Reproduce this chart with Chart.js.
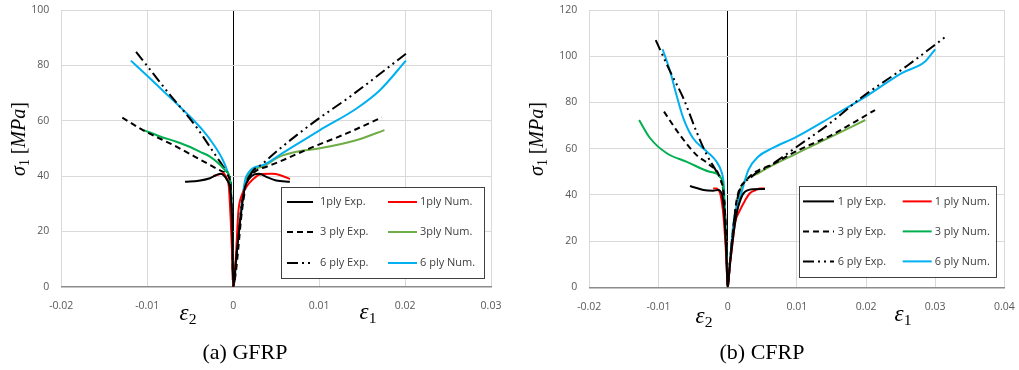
<!DOCTYPE html>
<html><head><meta charset="utf-8">
<script src="https://cdn.jsdelivr.net/npm/chart.js@4.4.0/dist/chart.umd.min.js"></script>
<style>
body{margin:0;background:#fff;width:1019px;height:370px;position:relative;overflow:hidden;}
canvas{position:absolute;top:0;}
.t{position:absolute;font-family:"Liberation Serif",serif;color:#000;white-space:nowrap;line-height:1;}
.t sub{font-style:normal;font-size:0.68em;vertical-align:-0.3em;line-height:0;}
.ax{font-style:italic;font-size:23px;transform:translate(-50%,-50%);}
.yt{transform:translate(-50%,-50%) rotate(-90deg);font-size:20px;}
.cap{font-size:22px;transform:translate(-50%,-50%);}
</style></head>
<body>
<canvas id="ga" width="505" height="330" style="left:0"></canvas>
<canvas id="cb" width="509" height="330" style="left:510px"></canvas>
<div class="t yt" style="left:18px;top:139px"><i>σ</i><sub>1</sub> [<i>MPa</i>]</div>
<div class="t yt" style="left:536px;top:139px"><i>σ</i><sub>1</sub> [<i>MPa</i>]</div>
<div class="t ax" style="left:188px;top:312px">ε<sub>2</sub></div>
<div class="t ax" style="left:368px;top:311px">ε<sub>1</sub></div>
<div class="t ax" style="left:704px;top:315px">ε<sub>2</sub></div>
<div class="t ax" style="left:903px;top:313px">ε<sub>1</sub></div>
<div class="t cap" style="left:245px;top:352px">(a) GFRP</div>
<div class="t cap" style="left:762px;top:352px">(b) CFRP</div>
<script>
// ---------- tick labels ----------
const gfrpXTicks = [-0.02, -0.01, 0, 0.01, 0.02, 0.03];
const gfrpYTicks = [0, 20, 40, 60, 80, 100];
const cfrpXTicks = [-0.02, -0.01, 0, 0.01, 0.02, 0.03, 0.04];
const cfrpYTicks = [0, 20, 40, 60, 80, 100, 120];

// ---------- legend labels ----------
const gfrpLabels = ['1ply Exp.', '1ply Num.', '3 ply Exp.', '3ply Num.', '6 ply Exp.', '6 ply Num.'];
const cfrpLabels = ['1 ply Exp.', '1 ply Num.', '3 ply Exp.', '3 ply Num.', '6 ply Exp.', '6 ply Num.'];

// ---------- GFRP data [strain, stress] ----------
const gfrp1Exp = [[-0.0056,37.9],[-0.0040,38.3],[-0.0027,39.2],[-0.0015,40.8],[-0.0007,38.5],[-0.0003,34],[-0.0001,20],[0,0],
  [0.0004,12],[0.0009,26],[0.0013,35],[0.0020,39.5],[0.0030,40.8],[0.0040,39.5],[0.0050,38.4],[0.0066,37.9]];
const gfrp1Num = [[-0.0023,40.0],[-0.0016,40.6],[-0.0012,41],[-0.0008,39.5],[-0.0005,36],[-0.0003,25],[-0.0001,10],[0,0],
  [0.0003,10],[0.0006,27],[0.0010,33],[0.0014,35.5],[0.0023,38.8],[0.0033,40.7],[0.0045,40.8],[0.0055,40.3],[0.0066,38.9]];
const gfrp3Exp = [[-0.0129,61.1],[-0.0105,56.6],[-0.0066,50.6],[-0.0027,44],[-0.0012,41.6],[-0.0005,39.5],[-0.0002,30],[-0.0001,15],[0,0],
  [0.0003,5],[0.0006,14],[0.0009,24],[0.0012,31.5],[0.0016,38],[0.0025,41.5],[0.0040,43.5],[0.0054,45.2],[0.0089,50],[0.0132,55.4],[0.0173,61.2]];
const gfrp3NumNeg = [[-0.0104,56.6],[-0.0085,54.3],[-0.0066,52.4],[-0.0050,50.5],[-0.0039,48.8],[-0.0027,47],[-0.0015,44],[-0.0008,41.6],[-0.0004,39.2],[-0.0002,30],[-0.0001,15],[0,0]];
const gfrp3NumPos = [[0,0],[0.0005,15],[0.0010,30],[0.0015,39],[0.0035,43.5],[0.0054,47],[0.0074,48.8],[0.0101,50],[0.0144,53],[0.0176,56.6]];
const gfrp6Exp = [[-0.0113,84.9],[-0.0093,77],[-0.0074,69.5],[-0.0055,62.5],[-0.0040,56.5],[-0.0027,50.5],[-0.0015,45],[-0.0007,41.5],[-0.0003,38],[-0.0002,30],[-0.0001,15],[0,0],
  [0.0005,15],[0.0010,30],[0.0019,39.8],[0.0035,44.6],[0.0054,49.8],[0.0097,60.2],[0.0136,68.7],[0.0204,84.9]];
const gfrp6Num = [[-0.0119,81.7],[-0.0100,76.2],[-0.0085,71.8],[-0.0068,66.8],[-0.0050,61.4],[-0.0035,56.4],[-0.0025,52.4],[-0.0012,45.8],[-0.0006,41],[-0.0003,37],[-0.0002,30],[-0.0001,15],[0,0],
  [0.0005,15],[0.0010,30],[0.0015,39.8],[0.0035,44],[0.0054,47.6],[0.0101,56.6],[0.0144,64.5],[0.0171,71.1],[0.0201,81.7]];

// ---------- CFRP data [strain, stress] ----------
const cfrp1Exp = [[-0.00545,43.8],[-0.0045,43],[-0.0035,42.1],[-0.0021,41.8],[-0.0014,42.1],[-0.0008,40],[-0.0005,32],[-0.0002,15],[0,0],
  [0.0003,9],[0.0008,22],[0.0013,32],[0.0018,37.5],[0.0023,40.7],[0.0037,42.4],[0.0054,42.5]];
const cfrp1Num = [[-0.0021,42.8],[-0.0017,42.8],[-0.0011,40.7],[-0.0008,36],[-0.0006,30.6],[-0.0003,18],[-0.00014,8.9],[0,0],
  [0.0003,8.9],[0.0007,19],[0.00105,27.7],[0.0018,33.5],[0.0025,37.5],[0.0032,40.7],[0.0040,42],[0.0047,42.8],[0.0054,42.8]];
const cfrp3Exp = [[-0.0092,76],[-0.0069,65.9],[-0.0045,57.2],[-0.0026,52.9],[-0.0011,47.2],[-0.0005,38],[-0.0002,20],[0,0],
  [0.0003,10],[0.0008,25],[0.0013,37.8],[0.00275,46.4],[0.0068,53.7],[0.0100,59],[0.0150,65.9],[0.0213,76.7]];
const cfrp3NumNeg = [[-0.0128,72.4],[-0.0112,64.5],[-0.0088,58],[-0.0059,54.3],[-0.0026,50],[-0.0011,47.9],[-0.0006,42],[-0.0003,25],[-0.0001,10],[0,0]];
const cfrp3NumPos = [[0,0],[0.0003,10],[0.0008,25],[0.0013,35],[0.0020,43.5],[0.0044,49.3],[0.0100,58],[0.0150,65.2],[0.0199,72.4]];
const cfrp6Exp = [[-0.0104,107],[-0.0083,93.3],[-0.0064,81.8],[-0.0045,67.3],[-0.0030,57.2],[-0.0016,50],[-0.0009,45.7],[-0.0005,38],[-0.0002,20],[0,0],
  [0.0003,10],[0.0008,25],[0.0013,37],[0.0035,47.9],[0.0059,52.2],[0.0100,60.8],[0.0150,71.5],[0.0192,81.8],[0.0260,96],[0.0314,108.2]];
const cfrp6Num = [[-0.0094,103],[-0.0083,93.3],[-0.0074,83.2],[-0.0064,73.1],[-0.0050,64.5],[-0.0030,58.7],[-0.0016,54.3],[-0.0009,50],[-0.0006,45.7],[-0.0005,40.7],[-0.0003,25],[-0.00015,10],[0,0],
  [0.0003,10],[0.0008,27],[0.0013,35],[0.0018,39.2],[0.0030,50.8],[0.0044,56.5],[0.0064,60.1],[0.0100,65.2],[0.0150,73.8],[0.0203,83.2],[0.0251,92.6],[0.0285,97.6],[0.0300,103]];

Chart.defaults.font.family = "'Open Sans', sans-serif";

const legendPlugin = {
  id: 'boxLegend',
  afterDraw(chart, args, o) {
    const {ctx, chartArea} = chart;
    const L = chartArea.right - o.right - o.w;
    const T = chartArea.bottom - o.bottom - o.h;
    ctx.save();
    ctx.fillStyle = '#fff';
    ctx.fillRect(L, T, o.w, o.h);
    ctx.strokeStyle = '#404040';
    ctx.lineWidth = 1;
    ctx.strokeRect(Math.round(L) + 0.5, Math.round(T) + 0.5, o.w, o.h);
    ctx.font = "11px 'Open Sans', sans-serif";
    ctx.textBaseline = 'middle';
    chart.data.datasets.slice(0, 6).forEach((ds, i) => {
      const col = i % 2, row = Math.floor(i / 2);
      const y = T + o.rows[row];
      const x0 = L + o.lineX[col];
      ctx.strokeStyle = (i === 3 && o.green) ? o.green : ds.borderColor;
      ctx.lineWidth = 2;
      ctx.setLineDash(ds.borderDash || []);
      ctx.beginPath();
      ctx.moveTo(x0, y);
      ctx.lineTo(x0 + o.lineW[col], y);
      ctx.stroke();
      ctx.setLineDash([]);
      ctx.fillStyle = '#404040';
      ctx.fillText(ds.label, L + o.textX[col], y);
    });
    ctx.restore();
  }
};

// series: [1Exp, 1Num, 3Exp, 3Num(eps2 branch), 6Exp, 6Num, 3Num(eps1 branch)]
function mkDatasets(labels, series) {
  const colors = ['#000000', '#ff0000', '#000000', '#00b050', '#000000', '#00b0f0', '#70ad47'];
  const dashes = [[], [], [6, 4], [], [11, 4, 2, 4, 2, 4], [], []];
  const lbls = labels.concat([labels[3]]);
  return series.map((s, i) => ({
    label: lbls[i],
    data: s.map(p => ({x: p[0], y: p[1]})),
    borderColor: colors[i],
    borderDash: dashes[i],
    borderWidth: 2,
    pointRadius: 0,
    showLine: true,
    fill: false,
    cubicInterpolationMode: 'monotone'
  }));
}

function noPad(s) { s.paddingLeft = 0; s.paddingRight = 0; s.paddingTop = 0; s.paddingBottom = 0; }

function mkChart(id, datasets, xt, yt, yw, xh, padT, padR, legend) {
  const fmt = v => String(Math.round(v * 100) / 100);
  return new Chart(document.getElementById(id), {
    type: 'scatter',
    data: {datasets},
    plugins: [legendPlugin],
    options: {
      responsive: false,
      animation: false,
      layout: {padding: {top: padT, right: padR, left: 0, bottom: 0}},
      plugins: {legend: {display: false}, tooltip: {enabled: false}, boxLegend: legend},
      scales: {
        x: {
          type: 'linear', min: xt[0], max: xt[xt.length - 1],
          afterBuildTicks: s => { s.ticks = xt.map(v => ({value: v})); },
          afterFit: s => { s.height = xh; noPad(s); },
          grid: {color: c => (c.tick && c.tick.value === 0) ? '#000000' : '#d9d9d9', lineWidth: 1, drawTicks: false},
          border: {display: true, color: '#8c8c8c', width: 1.5},
          ticks: {color: '#595959', font: {size: 10.5}, padding: 13, callback: fmt, maxRotation: 0}
        },
        y: {
          type: 'linear', min: yt[0], max: yt[yt.length - 1],
          afterBuildTicks: s => { s.ticks = yt.map(v => ({value: v})); },
          afterFit: s => { s.width = yw; noPad(s); },
          grid: {color: '#d9d9d9', lineWidth: 1, drawTicks: false},
          border: {display: false},
          ticks: {color: '#595959', font: {size: 10.5}, padding: 12, callback: fmt}
        }
      }
    }
  });
}

mkChart('ga', mkDatasets(gfrpLabels, [gfrp1Exp, gfrp1Num, gfrp3Exp, gfrp3NumNeg, gfrp6Exp, gfrp6Num, gfrp3NumPos]),
  gfrpXTicks, gfrpYTicks, 61.3, 43.3, 10, 14,
  {right: 7, bottom: 8.7, w: 203, h: 91, rows: [15, 45, 76], lineX: [6, 107], lineW: [26, 29], textX: [39, 139], green: '#70ad47'});
mkChart('cb', mkDatasets(cfrpLabels, [cfrp1Exp, cfrp1Num, cfrp3Exp, cfrp3NumNeg, cfrp6Exp, cfrp6Num, cfrp3NumPos]),
  cfrpXTicks, cfrpYTicks, 79.3, 42.7, 10, 14.6,
  {right: 8.7, bottom: 10.6, w: 197, h: 91, rows: [15.7, 45.7, 75.7], lineX: [4.3, 104], lineW: [31, 29], textX: [39, 136], green: '#00b050'});
</script>
</body></html>
